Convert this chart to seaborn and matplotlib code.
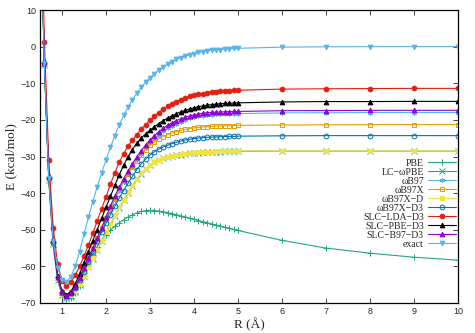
import pandas as pd
import seaborn as sns
import matplotlib.pyplot as plt

R = [0.5, 0.6, 0.7, 0.8, 0.9, 1.0, 1.1, 1.2, 1.3, 1.4, 1.5, 1.6, 1.7, 1.8, 1.9,
     2.0, 2.1, 2.2, 2.3, 2.4, 2.5, 2.6, 2.7, 2.8, 2.9, 3.0, 3.1, 3.2, 3.3, 3.4,
     3.5, 3.6, 3.7, 3.8, 3.9, 4.0, 4.1, 4.2, 4.3, 4.4, 4.5, 4.6, 4.7, 4.8, 4.9,
     5.0, 6, 7, 8, 9, 10]

pbe = [40, -5.2, -36.6, -54.4, -63.8, -67.9, -68.8, -68.5, -67.3, -65.3, -62.7,
       -59.8, -57.0, -54.6, -52.7, -51.3, -50.1, -49.0, -48.1, -47.3, -46.5,
       -45.9, -45.4, -45.0, -44.8, -44.7, -44.75, -44.9, -45.1, -45.3, -45.6,
       -45.9, -46.2, -46.5, -46.8, -47.2, -47.5, -47.8, -48.1, -48.4, -48.7,
       -49.0, -49.3, -49.6, -49.9, -50.2, -52.9, -55.0, -56.4, -57.5, -58.3]

lc_wpbe = [42, -5.0, -36.5, -54.0, -63.6, -67.9, -68.7, -68.3, -67.0, -65.0, -62.7,
           -60.3, -57.9, -55.5, -53.1, -50.8, -48.5, -46.2, -44.0, -41.9, -39.9,
           -38.0, -36.2, -34.7, -33.4, -32.4, -31.6, -31.0, -30.5, -30.15, -29.9,
           -29.7, -29.5, -29.3, -29.15, -29.05, -28.95, -28.85, -28.8, -28.75, -28.7,
           -28.65, -28.6, -28.6, -28.55, -28.55, -28.5, -28.5, -28.5, -28.5, -28.5]

wb97 = [43, -4.6, -35.9, -53.4, -62.9, -67.0, -67.8, -67.2, -65.6, -63.4, -60.9,
        -58.3, -55.6, -52.9, -50.1, -47.3, -44.5, -41.9, -39.4, -37.0, -34.8,
        -32.8, -30.9, -29.2, -27.7, -26.3, -25.1, -24.0, -23.1, -22.3, -21.6,
        -21.0, -20.5, -20.0, -19.6, -19.3, -19.05, -18.85, -18.7, -18.6, -18.5,
        -18.45, -18.4, -18.35, -18.3, -18.3, -18.1, -18.05, -18.0, -18.0, -18.0]

wb97x = [43, -4.4, -35.8, -53.3, -62.8, -66.9, -67.7, -67.0, -65.3, -63.0, -60.4,
         -57.7, -55.1, -52.3, -49.5, -46.8, -44.0, -41.4, -39.0, -36.8, -34.8,
         -32.9, -31.1, -29.5, -28.1, -26.9, -26.0, -25.2, -24.6, -24.0, -23.6,
         -23.2, -22.9, -22.6, -22.4, -22.2, -22.05, -21.95, -21.85, -21.8, -21.7,
         -21.65, -21.6, -21.6, -21.55, -21.5, -21.4, -21.35, -21.3, -21.3, -21.3]

wb97x_d = [42, -5.0, -36.4, -53.8, -63.3, -67.5, -68.3, -67.9, -66.6, -64.7, -62.5,
           -60.2, -57.8, -55.4, -53.0, -50.7, -48.4, -46.1, -43.9, -41.8, -39.8,
           -37.9, -36.1, -34.6, -33.3, -32.3, -31.5, -30.9, -30.4, -30.05, -29.8,
           -29.6, -29.4, -29.2, -29.05, -28.95, -28.85, -28.75, -28.7, -28.65, -28.6,
           -28.55, -28.5, -28.5, -28.45, -28.45, -28.45, -28.45, -28.45, -28.45, -28.45]

wb97x_d3 = [42, -4.7, -36.0, -53.5, -63.0, -67.2, -68.0, -67.4, -65.9, -63.8, -61.4,
            -58.8, -56.0, -53.2, -50.6, -48.2, -45.9, -43.6, -41.4, -39.3, -37.3,
            -35.4, -33.6, -32.0, -30.7, -29.6, -28.7, -28.0, -27.4, -26.9, -26.5,
            -26.1, -25.8, -25.5, -25.3, -25.1, -24.95, -24.85, -24.75, -24.7, -24.65,
            -24.6, -24.55, -24.5, -24.5, -24.45, -24.35, -24.3, -24.3, -24.3, -24.3]

slc_lda = [52, 1.3, -31.0, -49.5, -59.3, -64.0, -65.3, -64.4, -62.4, -60.0, -57.2,
           -54.2, -51.0, -47.6, -44.3, -41.0, -37.6, -34.4, -31.6, -29.2, -27.2,
           -25.5, -24.0, -22.6, -21.3, -20.1, -19.0, -18.0, -17.1, -16.3, -15.6,
           -15.0, -14.5, -14.0, -13.6, -13.3, -13.0, -12.8, -12.6, -12.45, -12.3,
           -12.2, -12.1, -12.0, -11.95, -11.9, -11.6, -11.5, -11.45, -11.4, -11.4]

slc_pbe = [44, -3.8, -35.3, -52.8, -62.5, -66.8, -67.8, -66.9, -64.8, -62.0, -59.0,
           -56.0, -53.0, -50.0, -46.9, -43.9, -40.9, -37.9, -35.0, -32.4, -30.1,
           -28.1, -26.4, -25.0, -23.8, -22.8, -21.9, -21.0, -20.2, -19.5, -18.9,
           -18.3, -17.8, -17.4, -17.0, -16.7, -16.4, -16.2, -16.0, -15.85, -15.7,
           -15.6, -15.5, -15.45, -15.4, -15.35, -15.1, -15.0, -15.0, -14.95, -14.95]

slc_b97 = [43, -4.2, -35.6, -53.2, -62.8, -67.1, -68.0, -67.3, -65.5, -63.1, -60.5,
           -57.8, -55.0, -52.2, -49.4, -46.5, -43.5, -40.8, -38.4, -36.1, -34.0,
           -32.0, -30.1, -28.4, -26.9, -25.5, -24.3, -23.2, -22.3, -21.5, -20.8,
           -20.2, -19.7, -19.3, -18.9, -18.6, -18.4, -18.2, -18.05, -17.95, -17.9,
           -17.85, -17.8, -17.75, -17.7, -17.7, -17.5, -17.45, -17.4, -17.4, -17.4]

exact = [42, -4.5, -36.0, -53.0, -60.5, -63.6, -64.3, -62.9, -60.0, -56.0, -51.2,
         -46.6, -42.3, -38.3, -34.5, -30.9, -27.5, -24.3, -21.4, -18.8, -16.5,
         -14.5, -12.7, -11.1, -9.7, -8.5, -7.4, -6.4, -5.5, -4.8, -4.1,
         -3.5, -3.0, -2.6, -2.2, -1.9, -1.6, -1.4, -1.2, -1.0, -0.9,
         -0.8, -0.7, -0.6, -0.5, -0.45, -0.15, -0.05, 0.0, 0.0, 0.0]

labels = ['PBE', 'LC\u2212\u03c9PBE', '\u03c9B97', '\u03c9B97X', '\u03c9B97X\u2212D',
          '\u03c9B97X\u2212D3', 'SLC\u2212LDA\u2212D3', 'SLC\u2212PBE\u2212D3',
          'SLC\u2212B97\u2212D3', 'exact']
series = [pbe, lc_wpbe, wb97, wb97x, wb97x_d, wb97x_d3, slc_lda, slc_pbe, slc_b97, exact]

colors = ['#1fa97c', '#1fa97c', '#56b4e9', '#e69f00', '#f0e442', '#0072b2',
          '#e51e10', '#000000', '#9400d3', '#56b4e9']
markers = ['+', 'x', (6, 2, 0), 's', 's', 'o', 'o', '^', '^', 'v']
filled = [False, False, False, False, True, False, True, True, True, True]

sns.set_style('ticks')
plt.rcParams['font.family'] = ['Liberation Sans', 'DejaVu Sans']

fig = plt.figure(figsize=(4.75, 3.33), dpi=100)
ax = fig.add_axes([40 / 475, 30 / 333, 418 / 475, 293 / 333])

for lab, vals, c, m, f in zip(labels, series, colors, markers, filled):
    df = pd.DataFrame({'R': R, 'E': vals})
    sns.lineplot(data=df, x='R', y='E', ax=ax, color=c, marker=m, label=lab,
                 linewidth=0.8, markersize=3.4 if m not in ('+', 'x') else 4.0,
                 markerfacecolor=c if f else 'none', markeredgecolor=c,
                 markeredgewidth=0.7, clip_on=True)

ax.set_xlim(0.5, 10)
ax.set_ylim(-70, 10)
ax.set_xticks([1, 2, 3, 4, 5, 6, 7, 8, 9, 10])
ax.set_yticks([-70, -60, -50, -40, -30, -20, -10, 0, 10])
ax.tick_params(direction='in', length=3.5, width=0.6, labelsize=6.5,
               top=True, right=True, pad=3)
for s in ax.spines.values():
    s.set_linewidth(0.9)
    s.set_color('black')

serif = {'family': ['Liberation Serif', 'DejaVu Serif'], 'size': 9.5}
ax.set_xlabel('R (\u00c5)', fontdict=serif, labelpad=1)
ax.set_ylabel('E (kcal/mol)', fontdict=serif, labelpad=2)

ax.legend(loc='upper right', bbox_to_anchor=(0.995, 0.492), frameon=False,
          markerfirst=False, handlelength=2.9, handletextpad=0.4,
          labelspacing=0.0, borderpad=0, borderaxespad=0,
          prop={'family': ['Liberation Serif', 'DejaVu Serif'], 'size': 7})

fig.savefig('out.png', dpi=100)
